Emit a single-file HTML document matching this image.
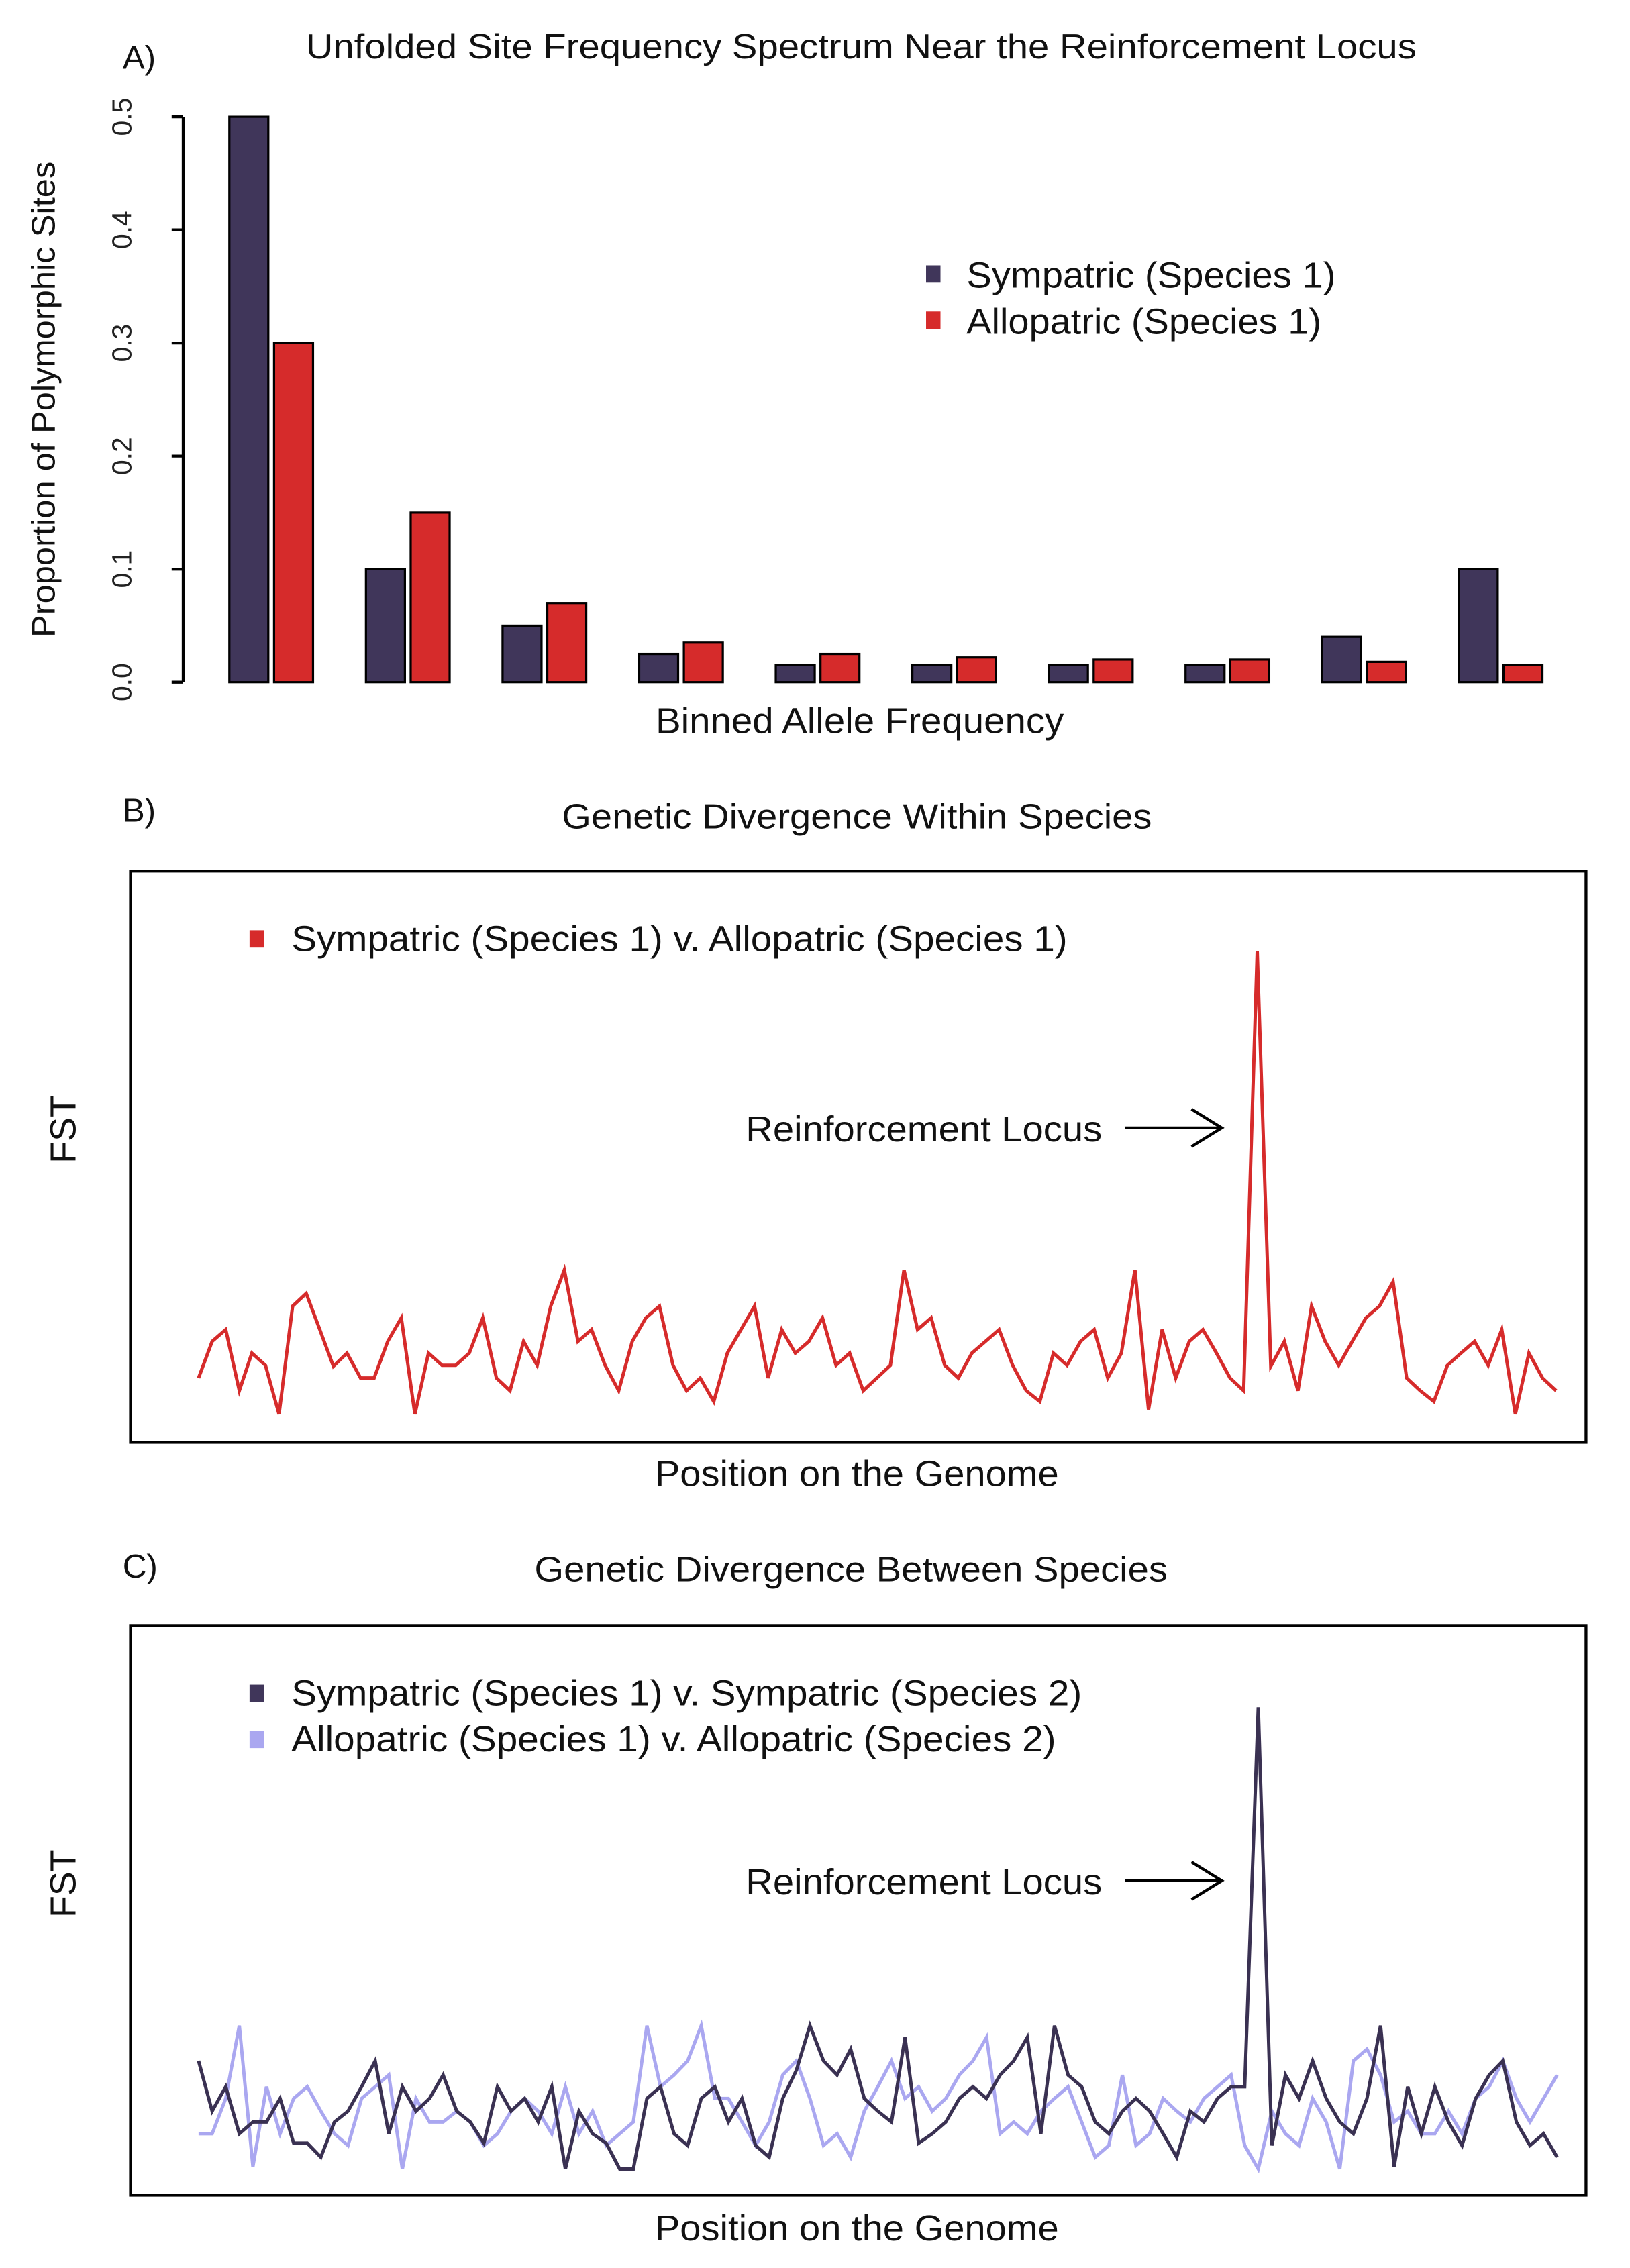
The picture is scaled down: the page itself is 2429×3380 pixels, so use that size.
<!DOCTYPE html>
<html><head><style>html,body{margin:0;padding:0;background:#fff}svg{display:block}</style></head>
<body>
<svg width="2429" height="3380" viewBox="0 0 1130 1572.5" preserveAspectRatio="none" xmlns="http://www.w3.org/2000/svg" font-family="Liberation Sans, Arial, sans-serif" fill="#111">
<rect width="1130" height="1572.5" fill="#fff"/>
<!-- Panel A -->
<text x="85" y="40" font-size="23" dominant-baseline="central">A)</text>
<text x="212" y="32" font-size="24" textLength="770" lengthAdjust="spacingAndGlyphs" dominant-baseline="central">Unfolded Site Frequency Spectrum Near the Reinforcement Locus</text>
<line x1="127" y1="81" x2="127" y2="473" stroke="#000" stroke-width="2"/>
<g stroke="#000" stroke-width="2">
<line x1="119" y1="473" x2="127" y2="473"/><line x1="119" y1="394.6" x2="127" y2="394.6"/><line x1="119" y1="316.2" x2="127" y2="316.2"/><line x1="119" y1="237.8" x2="127" y2="237.8"/><line x1="119" y1="159.4" x2="127" y2="159.4"/><line x1="119" y1="81" x2="127" y2="81"/>
</g>
<g font-size="19" text-anchor="middle" fill="#222">
<text transform="translate(91,473) rotate(-90)">0.0</text>
<text transform="translate(91,394.6) rotate(-90)">0.1</text>
<text transform="translate(91,316.2) rotate(-90)">0.2</text>
<text transform="translate(91,237.8) rotate(-90)">0.3</text>
<text transform="translate(91,159.4) rotate(-90)">0.4</text>
<text transform="translate(91,81) rotate(-90)">0.5</text>
</g>
<text transform="translate(38,277) rotate(-90)" font-size="23" text-anchor="middle" textLength="330" lengthAdjust="spacingAndGlyphs">Proportion of Polymorphic Sites</text>
<g stroke="#000" stroke-width="1.5">
<rect x="159" y="81" width="27" height="392" fill="#40365a"/>
<rect x="190" y="237.8" width="27" height="235.2" fill="#d62b2b"/>
<rect x="253.7" y="394.6" width="27" height="78.4" fill="#40365a"/>
<rect x="284.7" y="355.4" width="27" height="117.6" fill="#d62b2b"/>
<rect x="348.4" y="433.8" width="27" height="39.2" fill="#40365a"/>
<rect x="379.4" y="418.1" width="27" height="54.9" fill="#d62b2b"/>
<rect x="443.1" y="453.4" width="27" height="19.6" fill="#40365a"/>
<rect x="474.1" y="445.6" width="27" height="27.4" fill="#d62b2b"/>
<rect x="537.8" y="461.2" width="27" height="11.8" fill="#40365a"/>
<rect x="568.8" y="453.4" width="27" height="19.6" fill="#d62b2b"/>
<rect x="632.5" y="461.2" width="27" height="11.8" fill="#40365a"/>
<rect x="663.5" y="455.8" width="27" height="17.2" fill="#d62b2b"/>
<rect x="727.2" y="461.2" width="27" height="11.8" fill="#40365a"/>
<rect x="758.2" y="457.3" width="27" height="15.7" fill="#d62b2b"/>
<rect x="821.9" y="461.2" width="27" height="11.8" fill="#40365a"/>
<rect x="852.9" y="457.3" width="27" height="15.7" fill="#d62b2b"/>
<rect x="916.6" y="441.6" width="27" height="31.4" fill="#40365a"/>
<rect x="947.6" y="458.9" width="27" height="14.1" fill="#d62b2b"/>
<rect x="1011.3" y="394.6" width="27" height="78.4" fill="#40365a"/>
<rect x="1042.3" y="461.2" width="27" height="11.8" fill="#d62b2b"/>
</g>
<rect x="642" y="184" width="10" height="12" fill="#40365a"/>
<rect x="642" y="216" width="10" height="12" fill="#d62b2b"/>
<text x="670" y="191" font-size="25" textLength="256" lengthAdjust="spacingAndGlyphs" dominant-baseline="central">Sympatric (Species 1)</text>
<text x="670" y="223" font-size="25" textLength="246" lengthAdjust="spacingAndGlyphs" dominant-baseline="central">Allopatric (Species 1)</text>
<text x="596" y="500" font-size="25" text-anchor="middle" textLength="283" lengthAdjust="spacingAndGlyphs" dominant-baseline="central">Binned Allele Frequency</text>

<!-- Panel B -->
<text x="85" y="562" font-size="23" dominant-baseline="central">B)</text>
<text x="594" y="566" font-size="24" text-anchor="middle" textLength="409" lengthAdjust="spacingAndGlyphs" dominant-baseline="central">Genetic Divergence Within Species</text>
<rect x="90.5" y="604" width="1009" height="396" fill="none" stroke="#000" stroke-width="2"/>
<rect x="173" y="645" width="10" height="12" fill="#d62b2b"/>
<text x="202" y="651" font-size="25" textLength="538" lengthAdjust="spacingAndGlyphs" dominant-baseline="central">Sympatric (Species 1) v. Allopatric (Species 1)</text>
<text x="517" y="783" font-size="25" textLength="247" lengthAdjust="spacingAndGlyphs" dominant-baseline="central">Reinforcement Locus</text>
<g stroke="#000" stroke-width="2" fill="none"><line x1="780" y1="782" x2="847" y2="782"/><polyline points="826,769 847,782 826,795"/></g>
<text transform="translate(44,783) rotate(-90)" font-size="25" text-anchor="middle" dominant-baseline="central">FST</text>
<text x="594" y="1022" font-size="25" text-anchor="middle" textLength="280" lengthAdjust="spacingAndGlyphs" dominant-baseline="central">Position on the Genome</text>
<g transform="translate(0,534.9) scale(0.7245,0.326)">
<polyline fill="none" stroke="#d62b2b" stroke-width="5" vector-effect="non-scaling-stroke" points="190,1290 203,1212 216,1187 229,1317 241,1237 254,1263 267,1367 280,1137 293,1110 306,1187 319,1265 332,1237 345,1290 358,1290 371,1212 384,1162 397,1367 410,1237 423,1263 436,1263 449,1237 462,1162 475,1290 488,1317 501,1212 514,1263 527,1137 540,1060 553,1212 566,1187 579,1263 592,1317 605,1212 618,1162 631,1137 644,1263 657,1317 670,1290 683,1340 696,1237 709,1187 722,1137 735,1290 748,1187 761,1237 774,1212 787,1162 800,1263 813,1237 826,1317 839,1290 852,1263 865,1060 878,1187 891,1162 904,1263 917,1290 930,1237 943,1212 956,1187 969,1263 982,1317 995,1340 1008,1237 1021,1263 1034,1212 1047,1187 1060,1290 1073,1237 1086,1060 1099,1357 1112,1187 1125,1290 1138,1212 1151,1187 1164,1237 1177,1290 1190,1317 1203,383 1216,1265 1229,1212 1242,1317 1255,1137 1268,1212 1281,1263 1294,1212 1307,1162 1320,1137 1333,1085 1346,1290 1359,1317 1372,1340 1385,1263 1398,1237 1411,1212 1424,1263 1437,1187 1450,1367 1463,1237 1476,1290 1489,1317"/>
</g>

<!-- Panel C -->
<text x="85" y="1086" font-size="23" dominant-baseline="central">C)</text>
<text x="590" y="1088" font-size="24" text-anchor="middle" textLength="439" lengthAdjust="spacingAndGlyphs" dominant-baseline="central">Genetic Divergence Between Species</text>
<rect x="90.5" y="1127" width="1009" height="395" fill="none" stroke="#000" stroke-width="2"/>
<rect x="173" y="1168" width="10" height="12" fill="#40365a"/>
<rect x="173" y="1200" width="10" height="12" fill="#aaa7f0"/>
<text x="202" y="1174" font-size="25" textLength="548" lengthAdjust="spacingAndGlyphs" dominant-baseline="central">Sympatric (Species 1) v. Sympatric (Species 2)</text>
<text x="202" y="1206" font-size="25" textLength="530" lengthAdjust="spacingAndGlyphs" dominant-baseline="central">Allopatric (Species 1) v. Allopatric (Species 2)</text>
<text x="517" y="1305" font-size="25" textLength="247" lengthAdjust="spacingAndGlyphs" dominant-baseline="central">Reinforcement Locus</text>
<g stroke="#000" stroke-width="2" fill="none"><line x1="780" y1="1304" x2="847" y2="1304"/><polyline points="826,1291 847,1304 826,1317"/></g>
<text transform="translate(44,1306) rotate(-90)" font-size="25" text-anchor="middle" dominant-baseline="central">FST</text>
<text x="594" y="1545" font-size="25" text-anchor="middle" textLength="280" lengthAdjust="spacingAndGlyphs" dominant-baseline="central">Position on the Genome</text>
<g transform="translate(0,1060.5) scale(0.7245,0.326)">
<polyline fill="none" stroke="#aaa7f0" stroke-width="5" vector-effect="non-scaling-stroke" points="190,1285 203,1285 216,1210 229,1055 242,1355 255,1185 268,1285 281,1210 294,1185 307,1237 320,1285 333,1310 346,1210 359,1185 372,1160 385,1360 398,1210 411,1260 424,1260 437,1237 450,1260 463,1310 476,1285 489,1237 502,1210 515,1237 528,1285 541,1185 554,1285 567,1237 580,1310 593,1285 606,1260 619,1055 632,1185 645,1160 658,1130 671,1055 684,1210 697,1210 710,1260 723,1310 736,1260 749,1160 762,1130 775,1210 788,1310 801,1285 814,1335 827,1237 840,1185 853,1130 866,1210 879,1185 892,1237 905,1210 918,1160 931,1130 944,1080 957,1285 970,1260 983,1285 996,1237 1009,1210 1022,1185 1035,1260 1048,1335 1061,1310 1074,1160 1087,1310 1100,1285 1113,1210 1126,1237 1139,1260 1152,1210 1165,1185 1178,1160 1191,1310 1204,1360 1217,1237 1230,1285 1243,1310 1256,1210 1269,1260 1282,1360 1295,1130 1308,1105 1321,1160 1334,1260 1347,1237 1360,1285 1373,1285 1386,1237 1399,1285 1412,1210 1425,1185 1438,1130 1451,1210 1464,1260 1477,1210 1490,1160"/>
<polyline fill="none" stroke="#3a3152" stroke-width="5" vector-effect="non-scaling-stroke" points="190,1130 203,1237 216,1185 229,1285 242,1260 255,1260 268,1210 281,1305 294,1305 307,1335 320,1260 333,1237 346,1185 359,1130 372,1285 385,1185 398,1237 411,1210 424,1160 437,1237 450,1260 463,1305 476,1185 489,1237 502,1210 515,1260 528,1185 541,1360 554,1237 567,1285 580,1305 593,1360 606,1360 619,1210 632,1185 645,1285 658,1310 671,1210 684,1185 697,1260 710,1210 723,1310 736,1335 749,1210 762,1150 775,1055 788,1130 801,1160 814,1105 827,1210 840,1237 853,1260 866,1080 879,1305 892,1285 905,1260 918,1210 931,1185 944,1210 957,1160 970,1130 983,1080 996,1285 1009,1055 1022,1160 1035,1185 1048,1260 1061,1285 1074,1237 1087,1210 1100,1237 1113,1285 1126,1335 1139,1237 1152,1260 1165,1210 1178,1185 1191,1185 1204,378 1217,1310 1230,1160 1243,1210 1256,1130 1269,1210 1282,1260 1295,1285 1308,1210 1321,1055 1334,1355 1347,1185 1360,1285 1373,1185 1386,1260 1399,1310 1412,1210 1425,1160 1438,1130 1451,1260 1464,1310 1477,1285 1490,1335"/>
</g>
</svg>
</body></html>
